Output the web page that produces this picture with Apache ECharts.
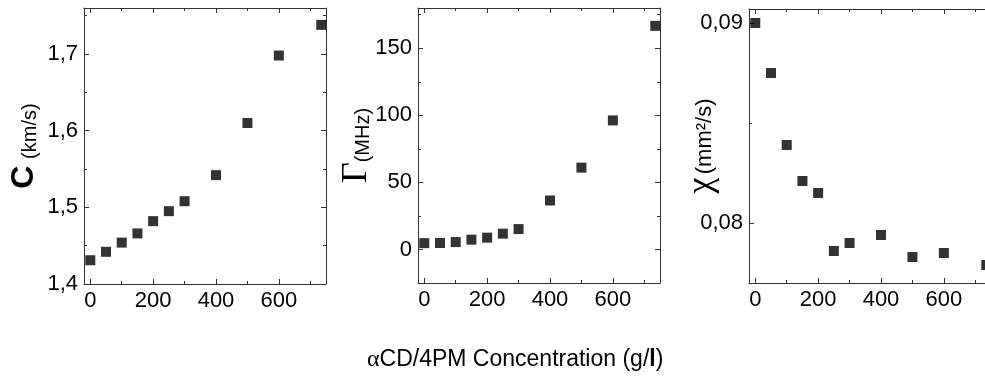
<!DOCTYPE html>
<html>
<head>
    <meta charset="utf-8">
    <title>Concentration panels</title>
    <script src="https://cdn.jsdelivr.net/npm/echarts@6/dist/echarts.min.js"></script>
    <style>
        html, body { margin: 0; padding: 0; background: #fff; }
    </style>
</head>
<body>
    <div id="main" style="width: 985px;height:378px;"></div>
    <script type="text/javascript">
        // data
        var conc = [0, 50, 100, 150, 200, 250, 300, 400, 500, 600, 735];
        var speed = [1.431, 1.442, 1.454, 1.466, 1.482, 1.495, 1.508, 1.542, 1.610, 1.698, 1.738];
        var gamma = [4.7, 4.8, 5.5, 7.3, 8.8, 11.8, 15.2, 36.5, 61, 96.2, 166.7];
        var chi = [0.0900, 0.0875, 0.0839, 0.0821, 0.0815, 0.0786, 0.0790, 0.0794, 0.0783, 0.0785, 0.0779];

        var xMajor = [0, 200, 400, 600];
        var xMinor = [100, 300, 500, 700];
        var speedMajor = [1.4, 1.5, 1.6, 1.7];
        var speedMinor = [1.45, 1.55, 1.65, 1.75];
        var gammaMajor = [0, 50, 100, 150];
        var gammaMinor = [-25, 25, 75, 125, 175];
        var chiMajor = [0.08, 0.09];
        var chiMinor = [0.085];

        var font = 'Liberation Sans, Arial, sans-serif';
        var serif = 'Liberation Serif, Times New Roman, serif';
        var lineColor = '#333';

        var myChart = echarts.init(document.getElementById('main'));

        function pair(a, b) {
            var out = [];
            for (var i = 0; i < a.length; i++) out.push([a[i], b[i]]);
            return out;
        }

        // one axis side: major ticks (+labels) and a second axis carrying only minor ticks
        function side(g, pos, min, max, major, minor, labels, fmt, name) {
            var base = {
                gridIndex: g, type: 'value', position: pos, min: min, max: max,
                splitLine: { show: false },
                axisLine: { onZero: false, lineStyle: { color: lineColor, width: 1 } }
            };
            var a = echarts.util.merge({
                axisTick: { inside: true, length: 5, customValues: major, lineStyle: { color: lineColor } },
                axisLabel: {
                    show: labels, customValues: major, color: '#000', fontFamily: font, fontSize: 22,
                    margin: 6, formatter: fmt
                }
            }, base, true);
            if (name) echarts.util.merge(a, name, true);
            var b = echarts.util.merge({
                axisLine: { show: false },
                axisTick: { inside: true, length: 3, customValues: minor, lineStyle: { color: lineColor } },
                axisLabel: { show: false, customValues: minor }
            }, base, false);
            b.axisLine = { show: false, onZero: false };
            return [a, b];
        }

        var xFmt = function (v) { return String(v); };
        var xAxes = [], yAxes = [];
        var panels = [
            { min: 1.4, max: 1.76, major: speedMajor, minor: speedMinor, dec: 1, data: speed,
              name: { name: '{big|C}  {small|(km/s)}', nameGap: 44,
                nameTextStyle: { rich: {
                    big: { fontFamily: font, fontSize: 32, fontWeight: 'bold', color: '#000', verticalAlign: 'bottom' },
                    small: { fontFamily: font, fontSize: 20, color: '#000', verticalAlign: 'bottom' } } } } },
            { min: -25, max: 180, major: gammaMajor, minor: gammaMinor, dec: 0, data: gamma,
              name: { name: '{big|Γ}{small|(MHz)}', nameGap: 43,
                nameTextStyle: { rich: {
                    big: { fontFamily: serif, fontSize: 36, color: '#000', verticalAlign: 'bottom' },
                    small: { fontFamily: font, fontSize: 20, color: '#000', verticalAlign: 'bottom', padding: [0, 0, 2, 0] } } } } },
            { min: 0.077, max: 0.0907, major: chiMajor, minor: chiMinor, dec: 2, data: chi,
              name: { name: '{big|χ} {small|(mm²/s)}', nameGap: 29,
                nameTextStyle: { rich: {
                    big: { fontFamily: serif, fontSize: 36, color: '#000', verticalAlign: 'middle' },
                    small: { fontFamily: font, fontSize: 22, color: '#000', verticalAlign: 'bottom', padding: [0, 0, 4, 0] } } } } }
        ];
        var grids = [
            { left: 84, top: 8, width: 242, height: 276, outerBoundsMode: 'none', containLabel: false },
            { left: 418, top: 8, width: 242, height: 275, outerBoundsMode: 'none', containLabel: false },
            { left: 749, top: 9, width: 242, height: 274, outerBoundsMode: 'none', containLabel: false }
        ];

        var series = [];
        panels.forEach(function (p, g) {
            var yFmt = function (v) { return v.toFixed(p.dec).replace('.', ','); };
            var xi = xAxes.length, yi = yAxes.length;
            xAxes = xAxes.concat(side(g, 'bottom', -20, 750, xMajor, xMinor, true, xFmt));
            xAxes = xAxes.concat(side(g, 'top', -20, 750, xMajor, xMinor, false, xFmt));
            var nameOpt = echarts.util.merge({ nameLocation: 'middle', nameRotate: 90, nameMoveOverlap: false }, p.name, true);
            yAxes = yAxes.concat(side(g, 'left', p.min, p.max, p.major, p.minor, true, yFmt, nameOpt));
            yAxes = yAxes.concat(side(g, 'right', p.min, p.max, p.major, p.minor, false, yFmt));
            series.push({
                type: 'scatter', xAxisIndex: xi, yAxisIndex: yi,
                symbol: 'rect', symbolSize: 10,
                itemStyle: { color: '#000' },
                data: pair(conc, p.data)
            });
        });

        var option = {
            animation: false,
            grid: grids,
            xAxis: xAxes,
            yAxis: yAxes,
            series: series,
            graphic: [{
                type: 'text', left: 367, top: 348,
                style: {
                    text: '{a|α}CD/4PM Concentration (g/{b|l})',
                    font: '23px ' + font, fill: '#000',
                    rich: {
                        a: { fontFamily: serif, fontSize: 24, fill: '#000' },
                        b: { fontFamily: font, fontSize: 23, fontWeight: 'bold', fill: '#000' }
                    }
                }
            }]
        };

        myChart.setOption(option);
    </script>
</body>
</html>
